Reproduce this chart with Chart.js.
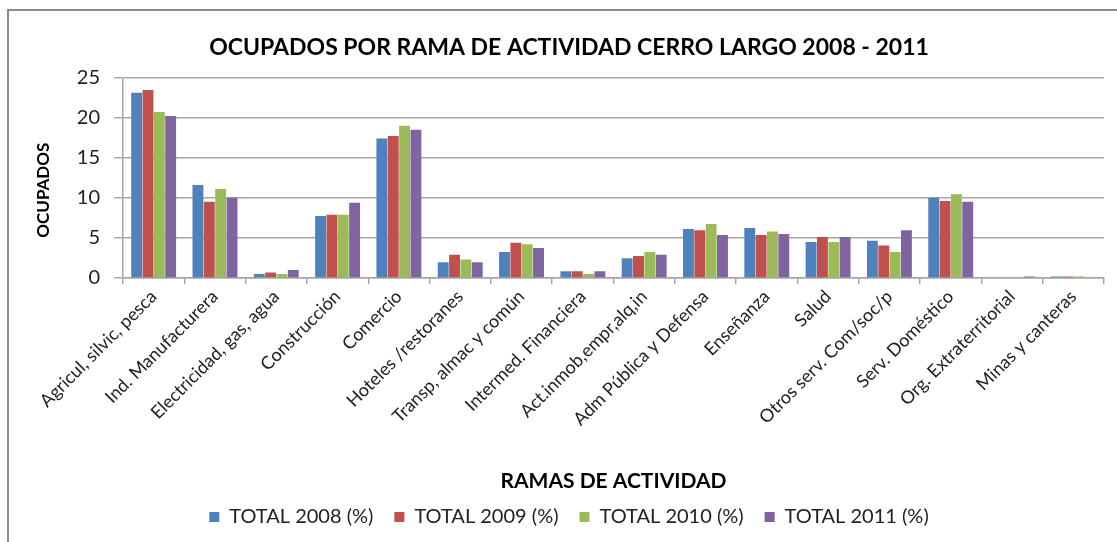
<!DOCTYPE html>
<html>
<head>
<meta charset="utf-8">
<script src="https://cdn.jsdelivr.net/npm/chart.js@4/dist/chart.umd.min.js"></script>
<style>
  html, body { margin: 0; padding: 0; background: #fff; }
  #wrap { position: relative; width: 1117px; height: 542px; }
</style>
</head>
<body>
<div id="wrap"><canvas id="ramasChart"></canvas></div>
<script>
// Datos
const categorias = [
  "Agricul, silvic, pesca", "Ind. Manufacturera", "Electricidad, gas, agua", "Construcción",
  "Comercio", "Hoteles /restoranes", "Transp, almac y común", "Intermed. Financiera",
  "Act.inmob,empr,alq,in", "Adm Pública y Defensa", "Enseñanza", "Salud",
  "Otros serv. Com/soc/p", "Serv. Doméstico", "Org. Extraterritorial", "Minas y canteras"
];
const total2008 = [23.1, 11.6, 0.5, 7.75, 17.4, 1.95, 3.25, 0.85, 2.45, 6.1, 6.25, 4.5, 4.65, 10.0, 0, 0.2];
const total2009 = [23.45, 9.5, 0.7, 7.9, 17.7, 2.9, 4.4, 0.85, 2.75, 5.95, 5.35, 5.1, 4.05, 9.6, 0, 0.2];
const total2010 = [20.7, 11.1, 0.5, 7.9, 19.0, 2.3, 4.2, 0.5, 3.25, 6.75, 5.8, 4.5, 3.25, 10.45, 0, 0.2];
const total2011 = [20.2, 10.0, 1.0, 9.4, 18.5, 1.95, 3.75, 0.85, 2.9, 5.35, 5.5, 5.1, 5.95, 9.5, 0.2, 0];
const series = ["TOTAL 2008 (%)", "TOTAL 2009 (%)", "TOTAL 2010 (%)", "TOTAL 2011 (%)"];
const yTicks = [0, 5, 10, 15, 20, 25];

const colores = ["#4f81bd", "#c0504d", "#9bbb59", "#8064a2"];
const fuente = "Lato, 'Open Sans', sans-serif";
const gris = "#a6a6a6";

// Marco exterior (solo borde izquierdo y superior visibles)
const marco = {
  id: "marco",
  beforeDraw(chart) {
    const ctx = chart.ctx;
    ctx.save();
    ctx.strokeStyle = "#8c8c8c";
    ctx.lineWidth = 2;
    ctx.beginPath();
    ctx.moveTo(8, chart.height);
    ctx.lineTo(8, 10);
    ctx.lineTo(chart.width, 10);
    ctx.stroke();
    ctx.restore();
  },
};

const datos = [total2008, total2009, total2010, total2011];

new Chart(document.getElementById("ramasChart"), {
  type: "bar",
  data: {
    labels: categorias,
    datasets: datos.map((d, i) => ({
      label: series[i],
      data: d,
      backgroundColor: colores[i],
      borderWidth: 0,
      barPercentage: 0.96,
      categoryPercentage: 0.74,
    })),
  },
  options: {
    responsive: true,
    maintainAspectRatio: false,
    animation: false,
    layout: { padding: { left: 34, right: 13, top: 10, bottom: 5 } },
    plugins: {
      title: {
        display: true,
        text: "OCUPADOS POR RAMA DE ACTIVIDAD CERRO LARGO 2008 - 2011",
        color: "#000",
        font: { family: fuente, size: 23, weight: "bold" },
        padding: { top: 24, bottom: 16 },
      },
      legend: {
        position: "bottom",
        labels: {
          color: "#222",
          boxWidth: 10,
          boxHeight: 10,
          padding: 21,
          font: { family: fuente, size: 20 },
        },
      },
      tooltip: { enabled: false },
    },
    scales: {
      y: {
        min: 0,
        max: 25,
        afterBuildTicks: (s) => { s.ticks = yTicks.map((v) => ({ value: v })); },
        afterFit: (s) => { s.width = 89; },
        ticks: { color: "#222", padding: 14, font: { family: fuente, size: 20 } },
        grid: { color: gris, lineWidth: 1.5, tickLength: 9 },
        border: { color: gris, width: 1.5 },
        title: {
          display: true,
          text: "OCUPADOS      ",
          color: "#000",
          font: { family: fuente, size: 17, weight: "bold" },
          padding: { top: -1, bottom: 0 },
        },
      },
      x: {
        afterFit: (s) => { s.height = 208; },
        ticks: {
          color: "#222",
          autoSkip: false,
          maxRotation: 45,
          minRotation: 45,
          padding: 2,
          font: { family: fuente, size: 18 },
        },
        grid: { offset: true, drawOnChartArea: false, color: gris, lineWidth: 1.5, tickLength: 6 },
        border: { color: gris, width: 1.5 },
        title: {
          display: true,
          text: "RAMAS DE ACTIVIDAD",
          color: "#000",
          font: { family: fuente, size: 21, weight: "bold" },
          padding: { top: 0, bottom: -7.6 },
        },
      },
    },
  },
  plugins: [marco],
});
</script>
</body>
</html>
